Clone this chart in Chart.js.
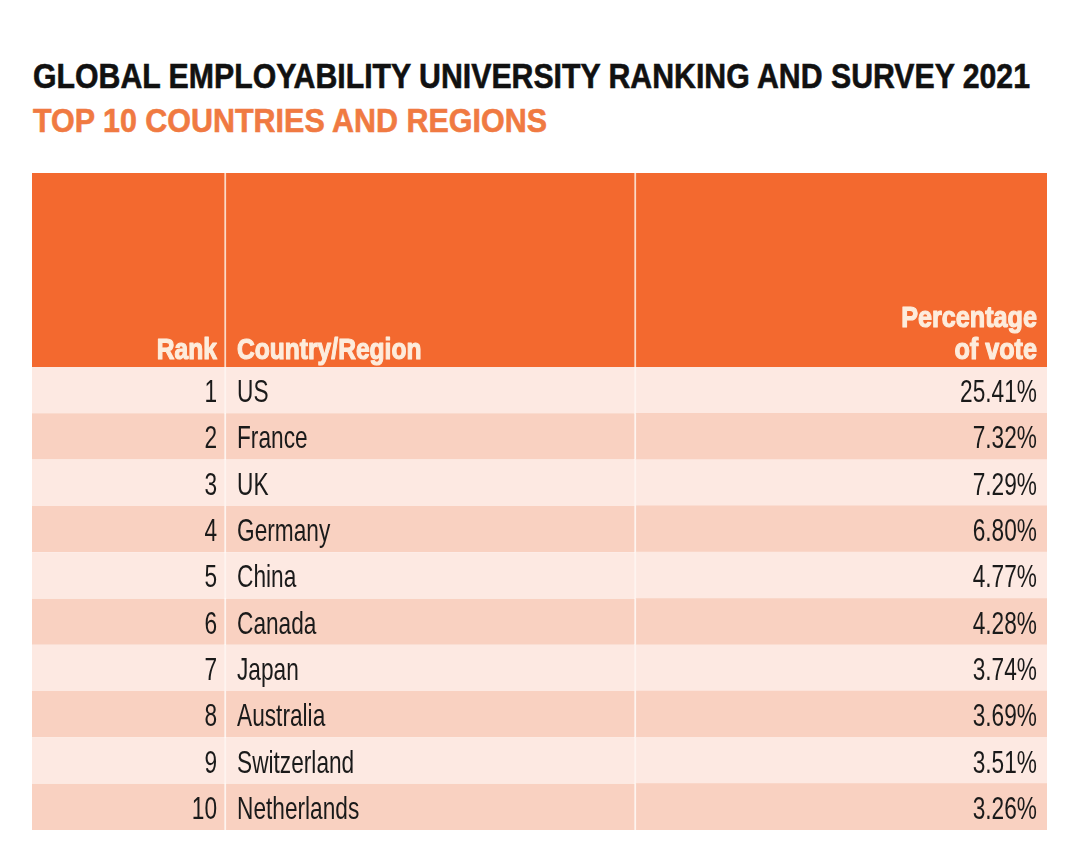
<!DOCTYPE html>
<html>
<head>
<meta charset="utf-8">
<script src="https://cdn.jsdelivr.net/npm/chart.js@4"></script>
<style>
  body { margin: 0; background: #fff; width: 1080px; height: 853px; overflow: hidden; position: relative;
         font-family: 'Liberation Sans', Arial, sans-serif; }
  .t { position: absolute; left: 33px; white-space: nowrap; font-weight: bold;
       line-height: 1; transform-origin: 0 0; -webkit-text-stroke: 0.6px currentColor; }
  #title { top: 58px; font-size: 35px; color: #111; }
  #subtitle { top: 103px; font-size: 34px; color: #f07a42; }
  .box { position: absolute; left: 32px; width: 1015px; }
  #headBox { top: 173px; height: 194px; }
  #bodyBox { top: 367px; height: 463px; }
</style>
</head>
<body>
<div class="t" id="title">GLOBAL EMPLOYABILITY UNIVERSITY RANKING AND SURVEY 2021</div>
<div class="t" id="subtitle">TOP 10 COUNTRIES AND REGIONS</div>
<div class="box" id="headBox"><canvas id="head"></canvas></div>
<div class="box" id="bodyBox"><canvas id="body"></canvas></div>
<script>
// datos de la tabla
const ranks = [1, 2, 3, 4, 5, 6, 7, 8, 9, 10]
const countries = ['US', 'France', 'UK', 'Germany', 'China', 'Canada', 'Japan', 'Australia', 'Switzerland', 'Netherlands']
const votes = [25.41, 7.32, 7.29, 6.80, 4.77, 4.28, 3.74, 3.69, 3.51, 3.26]
const headers = ['Rank', 'Country/Region', ['Percentage', 'of vote']]

// layout: ancho de cada columna (px)
const COLS = [194, 410, 411]
const TOTAL = COLS[0] + COLS[1] + COLS[2]

const ORANGE = '#f3692f'
const LIGHT = '#fde9e2'
const DARK = '#f9d1c1'
const FONT = "'Liberation Sans', Arial, sans-serif"

// ajustar titulos al ancho
function fit(id, w) {
  const el = document.getElementById(id)
  el.style.transform = 'scaleX(' + (w / el.getBoundingClientRect().width) + ')'
}
fit('title', 997)
fit('subtitle', 514)

// texto condensado (sx) y estirado (sy), stroke opcional para engrosar
function txt(ctx, s, x, y, align, font, sx, sy, stroke) {
  ctx.save()
  ctx.font = font
  ctx.textAlign = align
  ctx.textBaseline = 'alphabetic'
  ctx.translate(x, y)
  ctx.scale(sx, sy)
  ctx.fillText(s, 0, 0)
  if (stroke) {
    ctx.strokeStyle = ctx.fillStyle
    ctx.lineWidth = stroke
    ctx.lineJoin = 'round'
    ctx.strokeText(s, 0, 0)
  }
  ctx.restore()
}

function colDatasets(n, colorFn, divider) {
  return COLS.map((w, i) => ({
    data: Array(n).fill(w),
    backgroundColor: colorFn,
    borderColor: divider,
    borderWidth: i < 2 ? { right: 2, left: 0, top: 0, bottom: 0 } : 0,
    borderSkipped: false,
    categoryPercentage: 1,
    barPercentage: 1,
    stack: 'fila'
  }))
}

const baseOpts = {
  indexAxis: 'y',
  responsive: true,
  maintainAspectRatio: false,
  animation: false,
  layout: { padding: 0 },
  plugins: { legend: { display: false }, tooltip: { enabled: false } },
  scales: {
    x: { type: 'linear', min: 0, max: TOTAL, stacked: true, display: false },
    y: { stacked: true, display: false }
  }
}

// ✅ Cabecera
new Chart(document.getElementById('head'), {
  type: 'bar',
  data: { labels: ['header'], datasets: colDatasets(1, ORANGE, '#fbd9c6') },
  options: baseOpts,
  plugins: [{
    id: 'headText',
    afterDatasetsDraw(chart) {
      const ctx = chart.ctx
      const x = chart.scales.x
      const bottom = chart.chartArea.bottom
      const f = 'bold 30px ' + FONT
      ctx.fillStyle = '#fdecdc'
      txt(ctx, headers[0], x.getPixelForValue(COLS[0]) - 9, bottom - 8, 'right', f, 0.82, 1, 1.2)
      txt(ctx, headers[1], x.getPixelForValue(COLS[0]) + 11, bottom - 8, 'left', f, 0.82, 1, 1.2)
      txt(ctx, headers[2][0], x.getPixelForValue(TOTAL) - 10, bottom - 40, 'right', f, 0.84, 1, 1.2)
      txt(ctx, headers[2][1], x.getPixelForValue(TOTAL) - 10, bottom - 8, 'right', f, 0.84, 1, 1.2)
    }
  }]
})

// ✅ Filas
new Chart(document.getElementById('body'), {
  type: 'bar',
  data: {
    labels: countries,
    datasets: colDatasets(countries.length, c => c.dataIndex % 2 === 0 ? LIGHT : DARK, '#fef4ef')
  },
  options: baseOpts,
  plugins: [{
    id: 'bodyText',
    afterDatasetsDraw(chart) {
      const ctx = chart.ctx
      const x = chart.scales.x
      const y = chart.scales.y
      const f = '28px ' + FONT
      ctx.fillStyle = '#1a1a1a'
      countries.forEach((c, i) => {
        const yy = y.getPixelForValue(i) + 12
        txt(ctx, String(ranks[i]), x.getPixelForValue(COLS[0]) - 9, yy, 'right', f, 0.81, 1.15, 0)
        txt(ctx, c, x.getPixelForValue(COLS[0]) + 11, yy, 'left', f, 0.81, 1.15, 0)
        txt(ctx, votes[i].toFixed(2) + '%', x.getPixelForValue(TOTAL) - 10, yy, 'right', f, 0.81, 1.15, 0)
      })
    }
  }]
})
</script>
</body>
</html>
